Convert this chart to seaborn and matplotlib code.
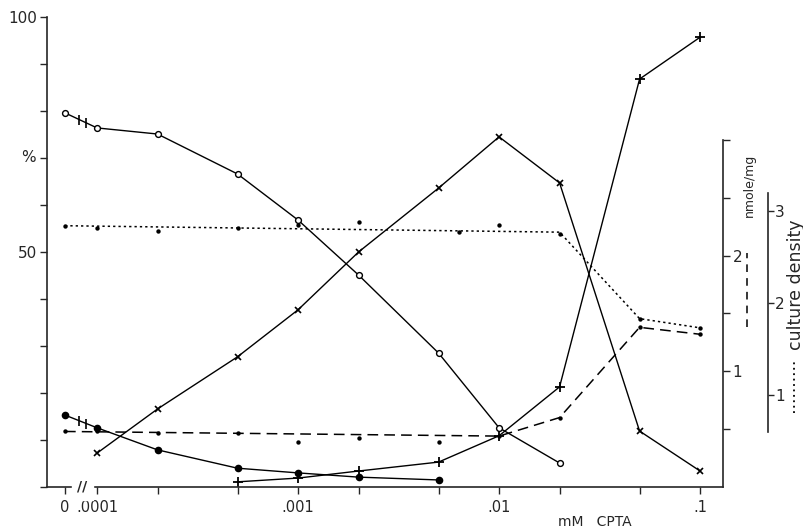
import numpy as np
import pandas as pd
import matplotlib
matplotlib.use('Agg')
import matplotlib.pyplot as plt
from matplotlib.lines import Line2D
from matplotlib.ticker import NullLocator
import seaborn as sns

sns.set_style('ticks')
plt.rcParams['font.family'] = ['DejaVu Sans']

# concentrations (mM CPTA); 0 is drawn at a stand-in position left of the break
conc = [0, 0.0001, 0.0002, 0.0005, 0.001, 0.002, 0.005, 0.01, 0.02, 0.05, 0.1]
ZERO_POS = 6.93e-5

# % scale (left axis)
open_circ = [79.6, 76.4, 75.1, 66.6, 56.8, 45.1, 28.5, 12.6, 5.1]           # conc[0:9]
crosses = [7.2, 16.6, 27.7, 37.7, 50.0, 63.6, 74.5, 64.7, 11.9, 3.4]        # conc[1:]
plusses = [1.1, 1.9, 3.4, 5.3, 10.9, 21.3, 86.8, 95.7]                      # conc[3:]
filled = [15.3, 12.6, 7.9, 4.0, 3.0, 2.1, 1.5]                              # conc[0:7]

# nmole/mg (dashed)
nmole_pts = [0.48, 0.48, 0.47, 0.47, 0.39, 0.42, 0.39, 0.44, 0.60, 1.38, 1.32]
nmole_line_conc = [0, 0.01, 0.02, 0.05, 0.1]
nmole_line = [0.48, 0.44, 0.60, 1.38, 1.32]

# culture density (dotted)
dens_conc = [0, 0.0001, 0.0002, 0.0005, 0.001, 0.002, 0.0063, 0.01, 0.02, 0.05, 0.1]
dens_pts = [2.84, 2.82, 2.78, 2.82, 2.85, 2.88, 2.77, 2.85, 2.75, 1.83, 1.73]
dens_line_conc = [0, 0.02, 0.05, 0.1]
dens_line = [2.84, 2.77, 1.83, 1.73]


def xpos(c):
    return [ZERO_POS if v == 0 else v for v in c]


fig = plt.figure(figsize=(8.04, 5.32), dpi=100)
ax = fig.add_axes([47 / 804, 45 / 532, 676 / 804, 470 / 532])
ax2 = ax.twinx()
ax3 = ax.twinx()

lw = 1.0
sns.lineplot(x=xpos(conc[:9]), y=open_circ, ax=ax, color='k', lw=lw, marker='o',
             markersize=4.2, markerfacecolor='white', markeredgecolor='k', markeredgewidth=1.0)
sns.lineplot(x=xpos(conc[1:]), y=crosses, ax=ax, color='k', lw=lw, marker='x',
             markersize=5, markeredgecolor='k', markeredgewidth=1.2)
sns.lineplot(x=xpos(conc[3:]), y=plusses, ax=ax, color='k', lw=lw, marker='+',
             markersize=7, markeredgecolor='k', markeredgewidth=1.3)
sns.lineplot(x=xpos(conc[:7]), y=filled, ax=ax, color='k', lw=lw, marker='o',
             markersize=5.5, markeredgewidth=0)

# break marks between "0" and .0001 on the two series that start at 0
lz, l1 = np.log10(ZERO_POS), np.log10(conc[1])
for ser in (open_circ, filled):
    for f in (0.45, 0.67):
        bx = 10 ** (lz + f * (l1 - lz))
        by = ser[0] + f * (ser[1] - ser[0])
        ax.plot([bx], [by], marker='|', color='k', markersize=7, mew=1.2)
bx_axis = 10 ** (lz + 0.55 * (l1 - lz))
ax.text(bx_axis, 0, '//', transform=ax.get_xaxis_transform(), ha='center', va='center',
        fontsize=10, fontweight='bold', backgroundcolor='white')

# nmole/mg, dashed
sns.lineplot(x=xpos(nmole_line_conc), y=nmole_line, ax=ax2, color='k', lw=1.1,
             linestyle=(0, (7, 4)))
sns.scatterplot(x=xpos(conc), y=nmole_pts, ax=ax2, color='k', s=10, linewidth=0)

# culture density, dotted
sns.lineplot(x=xpos(dens_line_conc), y=dens_line, ax=ax3, color='k', lw=1.1,
             linestyle=(0, (1.5, 2)))
sns.scatterplot(x=xpos(dens_conc), y=dens_pts, ax=ax3, color='k', s=10, linewidth=0)

# x axis
for a in (ax, ax2, ax3):
    a.set_xscale('log')
    a.set_xlim(5.64e-5, 0.130)
ax.xaxis.set_minor_locator(NullLocator())
ax.set_xticks(xpos(conc))
ax.set_xticklabels(['0', '.0001', '', '', '.001', '', '', '.01', '', '', '.1'])
ax.tick_params(axis='x', length=5, width=1, direction='out', labelsize=10.5, pad=4)
ax.text(0.81, -0.075, 'mM   CPTA', transform=ax.transAxes, fontsize=10, ha='center', va='center')

# left axis
ax.set_ylim(0, 100)
ax.set_yticks(range(0, 101, 10))
ax.set_yticklabels(['' if v not in (50, 100) else str(v) for v in range(0, 101, 10)])
ax.tick_params(axis='y', length=5, width=1, direction='out', labelsize=11, pad=2)
ax.set_ylabel('%', rotation=0, fontsize=11, labelpad=8)
ax.yaxis.set_label_coords(-0.028, 0.685)
ax.spines['top'].set_visible(False)
ax.spines['right'].set_visible(False)
for s in ('left', 'bottom'):
    ax.spines[s].set_linewidth(1.2)

# nmole/mg axis
ax2.set_ylim(0, 470 / 115.7)
ax2.set_yticks([0.5, 1, 1.5, 2, 2.5, 3])
ax2.set_yticklabels(['', '1', '', '2', '', ''])
ax2.spines['right'].set_bounds(0, 3)
ax2.spines['right'].set_linewidth(1.2)
ax2.yaxis.set_minor_locator(NullLocator())
ax2.tick_params(axis='y', length=5, width=1, labelsize=11, pad=2)
for s in ('left', 'top', 'bottom'):
    ax2.spines[s].set_visible(False)

# culture density axis (45 px to the right of the nmole axis)
ax3.set_ylim(0, 470 / 92)
ax3.set_yticks([1, 2, 3])
ax3.spines['right'].set_position(('outward', 45 * 0.72))
ax3.spines['right'].set_bounds(0.6, 3.2)
ax3.spines['right'].set_linewidth(1.2)
ax3.yaxis.set_minor_locator(NullLocator())
ax3.tick_params(axis='y', length=4, width=1, labelsize=11, pad=1)
for s in ('left', 'top', 'bottom'):
    ax3.spines[s].set_visible(False)

# axis captions with line-style keys
fig.text(749 / 804, 1 - 185 / 532, 'nmole/mg', rotation=90, fontsize=9, ha='center', va='center')
fig.add_artist(Line2D([747 / 804, 747 / 804], [1 - 327 / 532, 1 - 253 / 532],
                      color='k', lw=1.1, linestyle=(0, (5, 4))))
fig.text(796 / 804, 1 - 285 / 532, 'culture density', rotation=90, fontsize=12.5,
         ha='center', va='center')
fig.add_artist(Line2D([794 / 804, 794 / 804], [1 - 413 / 532, 1 - 362 / 532],
                      color='k', lw=1.3, linestyle=(0, (1, 2))))

fig.savefig('out.png', dpi=100)
